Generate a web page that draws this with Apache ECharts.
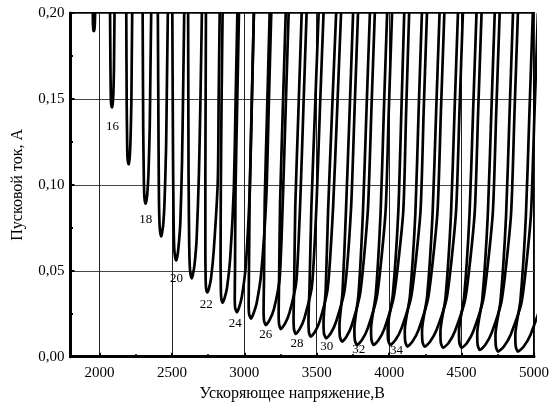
<!DOCTYPE html>
<html>
<head>
<meta charset="utf-8">
<script src="https://cdn.jsdelivr.net/npm/echarts@6/dist/echarts.min.js"></script>
<style>
html,body{margin:0;padding:0;background:#fff;}
#chart{width:552px;height:414px;}
</style>
</head>
<body>
<div id="chart"></div>
<script>
// Start-current curves, one per mode: [voltage V, current A]
const curve15 = [[1954,0.2],[1955,0.1937],[1957,0.1911],[1958,0.19],[1960,0.1897],[1962,0.1895],[1963,0.1897],[1964,0.19],[1966,0.1911],[1968,0.1937],[1969,0.1969],[1970,0.2]];
const curve16 = [[2073,0.2],[2076,0.167],[2078,0.1533],[2080,0.1478],[2083,0.1458],[2087,0.145],[2089,0.1458],[2092,0.1478],[2096,0.1533],[2100,0.167],[2102,0.1835],[2104,0.2]];
const curve17 = [[2185,0.2],[2188,0.1472],[2191,0.1252],[2193,0.1164],[2197,0.1133],[2202,0.112],[2205,0.1133],[2209,0.1164],[2214,0.1252],[2220,0.1472],[2223,0.1736],[2226,0.2]];
const curve18 = [[2298,0.2],[2302,0.1334],[2306,0.1057],[2309,0.0946],[2313,0.0907],[2319,0.089],[2324,0.0907],[2330,0.0946],[2338,0.1057],[2347,0.1334],[2352,0.1667],[2357,0.2]];
const curve19 = [[2403,0.2],[2408,0.122],[2411,0.0895],[2415,0.0765],[2420,0.072],[2427,0.07],[2432,0.072],[2440,0.0765],[2449,0.0895],[2460,0.122],[2466,0.161],[2472,0.2]];
const curve20 = [[2503,0.2],[2508,0.1136],[2512,0.0776],[2516,0.0632],[2522,0.0582],[2530,0.056],[2537,0.0582],[2545,0.0632],[2558,0.0776],[2570,0.1136],[2578,0.1568],[2585,0.2]];
const curve21 = [[2612,0.2],[2615,0.1074],[2619,0.0688],[2623,0.0533],[2629,0.0479],[2637,0.0456],[2645,0.0479],[2656,0.0533],[2671,0.0688],[2687,0.1074],[2698,0.1537],[2707,0.2]];
const curve22 = [[2735,0.2],[2733,0.1512],[2731,0.1024],[2731,0.0618],[2733,0.0455],[2736,0.0398],[2745,0.0374],[2756,0.0398],[2770,0.0455],[2789,0.0618],[2817,0.1024],[2823,0.1512],[2830,0.2]];
const curve23 = [[2850,0.2],[2843,0.1494],[2838,0.0988],[2836,0.0567],[2838,0.0398],[2841,0.0339],[2850,0.0314],[2863,0.0339],[2880,0.0398],[2902,0.0567],[2928,0.0988],[2940,0.1494],[2952,0.2]];
const curve24 = [[2963,0.2],[2951,0.1477],[2939,0.0955],[2936,0.0519],[2934,0.0345],[2937,0.0284],[2949,0.0258],[2963,0.0284],[2982,0.0345],[3009,0.0519],[3037,0.0955],[3052,0.1477],[3066,0.2]];
const curve25 = [[3066,0.2],[3051,0.1467],[3037,0.0933],[3032,0.0489],[3030,0.0311],[3033,0.0249],[3045,0.0222],[3062,0.0249],[3085,0.0311],[3117,0.0489],[3152,0.0933],[3169,0.1467],[3186,0.2]];
const curve26 = [[3175,0.2],[3158,0.1455],[3141,0.091],[3136,0.0456],[3133,0.0275],[3136,0.0211],[3148,0.0184],[3173,0.0211],[3204,0.0275],[3244,0.0456],[3266,0.091],[3286,0.1455],[3306,0.2]];
const curve27 = [[3286,0.2],[3266,0.1448],[3247,0.0897],[3240,0.0437],[3237,0.0253],[3240,0.0189],[3252,0.0161],[3279,0.0189],[3311,0.0253],[3359,0.0437],[3386,0.0897],[3408,0.1448],[3430,0.2]];
const curve28 = [[3396,0.2],[3374,0.144],[3352,0.0879],[3344,0.0412],[3340,0.0225],[3343,0.016],[3355,0.0132],[3382,0.016],[3415,0.0225],[3467,0.0412],[3498,0.0879],[3522,0.144],[3547,0.2]];
const curve29 = [[3513,0.2],[3488,0.1435],[3463,0.087],[3450,0.0399],[3443,0.021],[3446,0.0144],[3458,0.0116],[3487,0.0144],[3522,0.021],[3576,0.0399],[3613,0.087],[3641,0.1435],[3668,0.2]];
const curve30 = [[3634,0.2],[3606,0.1432],[3579,0.0864],[3562,0.0391],[3547,0.0202],[3550,0.0135],[3565,0.0107],[3596,0.0135],[3633,0.0202],[3693,0.0391],[3737,0.0864],[3761,0.1432],[3785,0.2]];
const curve31 = [[3751,0.2],[3727,0.1426],[3702,0.0852],[3678,0.0374],[3657,0.0183],[3660,0.0116],[3675,0.0087],[3705,0.0116],[3742,0.0183],[3801,0.0374],[3853,0.0852],[3877,0.1426],[3901,0.2]];
const curve32 = [[3867,0.2],[3843,0.142],[3819,0.0841],[3788,0.0358],[3760,0.0165],[3763,0.0097],[3778,0.0068],[3812,0.0097],[3852,0.0165],[3917,0.0358],[3975,0.0841],[3997,0.142],[4020,0.2]];
const curve33 = [[3986,0.2],[3963,0.142],[3941,0.0841],[3907,0.0358],[3875,0.0165],[3878,0.0097],[3893,0.0068],[3927,0.0097],[3968,0.0165],[4034,0.0358],[4097,0.0841],[4117,0.142],[4138,0.2]];
const curve34 = [[4104,0.2],[4084,0.142],[4063,0.0841],[4025,0.0358],[3990,0.0165],[3993,0.0097],[4008,0.0068],[4043,0.0097],[4085,0.0165],[4154,0.0358],[4216,0.0841],[4238,0.142],[4261,0.2]];
const curve35 = [[4226,0.2],[4203,0.1418],[4181,0.0835],[4143,0.035],[4108,0.0156],[4111,0.0088],[4126,0.0059],[4161,0.0088],[4203,0.0156],[4271,0.035],[4333,0.0835],[4357,0.1418],[4381,0.2]];
const curve36 = [[4348,0.2],[4324,0.1417],[4300,0.0835],[4262,0.0349],[4227,0.0155],[4230,0.0087],[4245,0.0058],[4282,0.0087],[4327,0.0155],[4399,0.0349],[4461,0.0835],[4485,0.1417],[4509,0.2]];
const curve37 = [[4475,0.2],[4451,0.1415],[4427,0.083],[4389,0.0343],[4354,0.0148],[4357,0.008],[4372,0.0051],[4410,0.008],[4454,0.0148],[4527,0.0343],[4590,0.083],[4614,0.1415],[4638,0.2]];
const curve38 = [[4603,0.2],[4579,0.1415],[4555,0.083],[4517,0.0343],[4482,0.0148],[4485,0.008],[4500,0.0051],[4537,0.008],[4581,0.0148],[4652,0.0343],[4715,0.083],[4739,0.1415],[4763,0.2]];
const curve39 = [[4729,0.2],[4705,0.1412],[4681,0.0823],[4643,0.0333],[4608,0.0137],[4611,0.0068],[4626,0.0039],[4663,0.0068],[4707,0.0137],[4778,0.0333],[4841,0.0823],[4865,0.1412],[4889,0.2]];
const curve40 = [[4855,0.2],[4831,0.1409],[4807,0.0817],[4769,0.0325],[4734,0.0128],[4737,0.0059],[4752,0.0029],[4792,0.0059],[4839,0.0128],[4916,0.0325],[4978,0.0817],[5003,0.1409],[5027,0.2]];
const curve41 = [[4992,0.2],[4968,0.1409],[4944,0.0817],[4906,0.0325],[4871,0.0128],[4874,0.0059],[4889,0.0029],[4929,0.0059],[4976,0.0128],[5053,0.0325],[5115,0.0817],[5140,0.1409],[5164,0.2]];

const curves = [curve15, curve16, curve17, curve18, curve19, curve20, curve21, curve22, curve23,
  curve24, curve25, curve26, curve27, curve28, curve29, curve30, curve31, curve32, curve33,
  curve34, curve35, curve36, curve37, curve38, curve39, curve40, curve41];

// Mode number labels and their anchor points
const labelText = ['16','18','20','22','24','26','28','30','32','34'];
const labelV = [2090, 2319, 2532, 2738, 2937, 3148, 3364, 3570, 3790, 4051];
const labelI = [0.1337, 0.0797, 0.0452, 0.0306, 0.019, 0.0126, 0.0074, 0.0056, 0.0039, 0.0033];

const xName = 'Ускоряющее напряжение,В';
const yName = 'Пусковой ток, А';

const FONT = '"Liberation Serif", "Times New Roman", serif';

const chart = echarts.init(document.getElementById('chart'), null, {renderer: 'canvas'});

const series = curves.map(c => ({
  type: 'line',
  data: c,
  symbol: 'none',
  showSymbol: false,
  smooth: 0.2,
  clip: true,
  silent: true,
  z: 3,
  lineStyle: {color: '#000', width: 2.7, join: 'round'}
}));

series.push({
  type: 'scatter',
  symbolSize: 0,
  silent: true,
  z: 5,
  itemStyle: {opacity: 1},
  data: labelText.map((t, i) => ({name: t, value: [labelV[i], labelI[i]]})),
  label: {
    show: true,
    position: 'inside',
    formatter: p => p.name,
    fontFamily: FONT,
    fontSize: 13,
    color: '#000',
    opacity: 1
  }
});

chart.setOption({
  animation: false,
  backgroundColor: '#fff',
  grid: {
    left: 70.5, right: 16, top: 13, bottom: 57.3,
    show: true, borderColor: '#000', borderWidth: 2, backgroundColor: 'transparent'
  },
  xAxis: {
    type: 'value',
    min: 1800,
    max: 5000,
    splitNumber: 6,
    name: xName,
    nameLocation: 'middle',
    nameGap: 27,
    nameTextStyle: {fontFamily: FONT, fontSize: 16, color: '#000', padding: [0, 20, 0, 0]},
    axisLine: {show: true, onZero: false, lineStyle: {color: '#000', width: 3}},
    axisTick: {show: true, inside: true, length: 4, lineStyle: {color: '#000', width: 2}},
    minorTick: {show: true, splitNumber: 2, length: 2.5, lineStyle: {color: '#000', width: 2}},
    axisLabel: {
      formatter: v => (v % 500 === 0 ? String(v) : ''),
      fontFamily: FONT, fontSize: 15, color: '#000', margin: 9
    },
    splitLine: {show: true, lineStyle: {color: '#222', width: 1}}
  },
  yAxis: {
    type: 'value',
    min: 0,
    max: 0.2,
    interval: 0.05,
    name: yName,
    nameLocation: 'middle',
    nameGap: 45,
    nameTextStyle: {fontFamily: FONT, fontSize: 16, color: '#000'},
    axisLine: {show: true, onZero: false, lineStyle: {color: '#000', width: 3}},
    axisTick: {show: true, inside: true, length: 4, lineStyle: {color: '#000', width: 2}},
    minorTick: {show: true, splitNumber: 2, length: 2.5, lineStyle: {color: '#000', width: 2}},
    axisLabel: {
      formatter: v => v.toFixed(2).replace('.', ','),
      fontFamily: FONT, fontSize: 15, color: '#000', margin: 6
    },
    splitLine: {show: true, lineStyle: {color: '#444', width: 1}}
  },
  series: series
});
</script>
</body>
</html>
